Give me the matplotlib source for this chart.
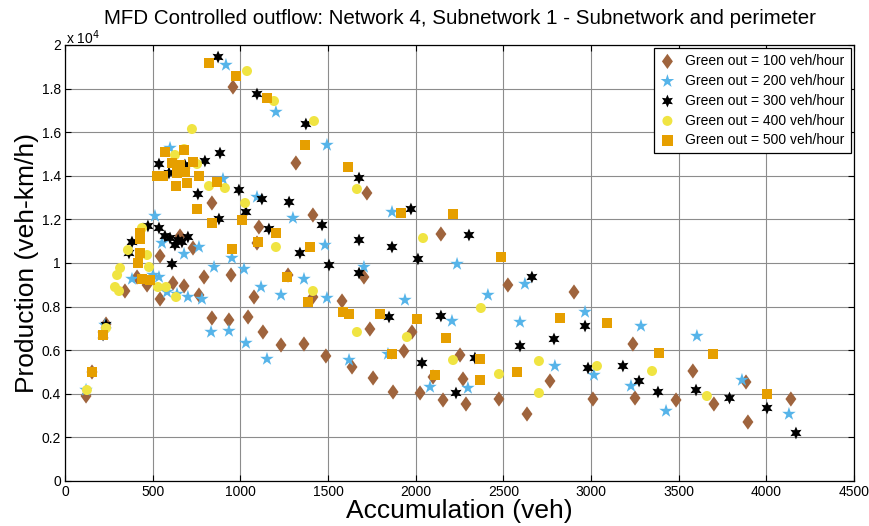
#!/usr/bin/env python3
"""
MFD scatter for network 4, subnetwork 1 under controlled outflow.
"""
import matplotlib
matplotlib.use('Agg')
import matplotlib.pyplot as plt
from matplotlib.ticker import FuncFormatter

plt.rcParams['font.family'] = ['Liberation Sans', 'DejaVu Sans']

# Accumulation (veh) and production (veh-km/h) per green-out setting
acc_100 = [120, 154, 234, 342, 411, 468, 542, 616, 679, 764, 838, 935, 1044,
           1078, 793, 947, 542, 656, 730, 838, 1106, 1095, 958, 1317, 1414,
           1722, 2144, 1705, 1272, 1414, 1580, 1129, 1232, 1363, 1488, 1637,
           1739, 1757, 1871, 1933, 1979, 2025, 2099, 2156, 2253, 2270, 2287,
           2475, 2526, 2635, 2766, 2903, 3011, 3239, 3251, 3485, 3581, 3701,
           3884, 3895, 4140]
prod_100 = [3900, 5000, 7200, 8715, 9357, 8991, 8348, 9082, 8945, 8532, 7477,
            7385, 7523, 8440, 9357, 9449, 10321, 11238, 10688, 12752, 11651,
            10917, 18073, 14587, 12201, 13211, 11330, 9357, 9449, 8440, 8257,
            6835, 6238, 6284, 5734, 5229, 6972, 4725, 4083, 5963, 6835, 4037,
            4771, 3716, 5780, 4679, 3532, 3761, 8991, 3073, 4587, 8669, 3761,
            6284, 3807, 3716, 5046, 3532, 4541, 2706, 3761]

acc_200 = [120, 228, 382, 502, 536, 582, 639, 701, 781, 833, 935, 1032, 513,
           553, 679, 764, 850, 952, 1021, 599, 901, 1095, 918, 1203, 1494,
           1300, 1865, 1483, 1705, 1363, 1118, 1232, 1494, 1939, 2412, 2236,
           2623, 2207, 2595, 2966, 3285, 3604, 1152, 1620, 1842, 2082, 2298,
           2794, 3017, 3228, 3428, 3861, 4129]
prod_200 = [4174, 7156, 9266, 9449, 9357, 8669, 8578, 8440, 8348, 6835, 6881,
            6330, 12156, 10917, 10412, 10734, 9816, 10229, 9724, 15275, 13853,
            13027, 19082, 16926, 15412, 12064, 12339, 10825, 9816, 9266, 8899,
            8532, 8394, 8302, 8532, 9954, 9036, 7339, 7293, 7752, 7110, 6651,
            5596, 5550, 5825, 4312, 4266, 5275, 4862, 4358, 3211, 4633, 3073]

acc_300 = [217, 234, 365, 382, 473, 536, 599, 627, 645, 667, 701, 570, 610,
           536, 593, 684, 798, 884, 758, 992, 1032, 878, 873, 1095, 1374,
           1677, 1973, 1123, 1278, 1163, 1466, 1677, 1340, 1865, 2304, 1506,
           1677, 2013, 2663, 1848, 2144, 2036, 2338, 2230, 2966, 2595, 2789,
           2983, 3182, 3274, 3382, 3599, 3790, 4004, 4169]
prod_300 = [6697, 7156, 10458, 10963, 11697, 11605, 11146, 10825, 11055,
            10963, 11192, 11238, 9954, 14541, 14128, 14495, 14678, 15045,
            13165, 13348, 12339, 12018, 19449, 17752, 16376, 13899, 12477,
            12935, 12798, 11559, 11743, 11055, 10458, 10734, 11284, 9908,
            9541, 10183, 9357, 7523, 7569, 5413, 5642, 4037, 7110, 6192,
            6514, 5183, 5275, 4587, 4083, 4174, 3807, 3349, 2202]

acc_400 = [125, 154, 234, 285, 297, 308, 314, 359, 439, 468, 479, 530, 576,
           633, 724, 627, 679, 753, 821, 912, 1027, 1038, 1192, 1420, 1665,
           2042, 1203, 1414, 1665, 1950, 2372, 2213, 2703, 2475, 3034, 3348,
           3661, 2703]
prod_400 = [4174, 5000, 7018, 8899, 9449, 8715, 9770, 10596, 11605, 10367,
            9816, 8899, 8899, 8440, 16146, 14954, 15229, 14541, 13532, 13440,
            12752, 18807, 17431, 16513, 13394, 11146, 10734, 8715, 6835, 6605,
            7936, 5550, 5504, 4908, 5275, 5046, 3899, 4037]

acc_500 = [154, 217, 428, 428, 428, 416, 439, 485, 525, 559, 570, 679, 610,
           656, 730, 639, 684, 764, 633, 696, 867, 753, 838, 1009, 952, 821,
           975, 1152, 1369, 1614, 1916, 2213, 1203, 1101, 1397, 1266, 1386,
           1585, 1620, 1796, 2008, 2487, 2823, 3091, 2173, 1865, 2367, 2110,
           2367, 2578, 3388, 3696, 4004]
prod_500 = [5000, 6697, 11376, 11101, 10458, 10000, 9266, 9220, 13990, 13990,
            15091, 15183, 14587, 14495, 14633, 14128, 14174, 13990, 13532,
            13669, 13715, 12477, 11834, 11972, 10642, 19174, 18577, 17568,
            15412, 14403, 12293, 12247, 11376, 10963, 10734, 9357, 8211, 7752,
            7660, 7660, 7431, 10275, 7477, 7247, 6560, 5825, 5596, 4862, 4633,
            5000, 5871, 5825, 3991]

green_out = [100, 200, 300, 400, 500]

# MATLAB-like diamond, a bit narrower than tall
diamond = [(0, 1), (0.72, 0), (0, -1), (-0.72, 0)]
series = [
    (acc_100, prod_100, diamond, '#9f643d', 120),
    (acc_200, prod_200, '*', '#56b4e9', 105),
    (acc_300, prod_300, (6, 1, 0), 'black', 85),
    (acc_400, prod_400, 'o', '#f0e442', 52),
    (acc_500, prod_500, 's', '#e69f00', 60),
]

fig = plt.figure(figsize=(8.7, 5.26), dpi=100)
ax = fig.add_axes([65 / 870, 45 / 526, 789 / 870, 436 / 526])

for (x, y, marker, color, size), g in zip(series, green_out):
    ax.scatter(x, y, s=size, marker=marker, c=color, edgecolors='none',
               label=f'Green out = {g} veh/hour', zorder=3)

ax.set_xlim(0, 4500)
ax.set_ylim(0, 20000)
ax.set_xticks(range(0, 4501, 500))
ax.set_yticks(range(0, 20001, 2000))
ax.yaxis.set_major_formatter(FuncFormatter(lambda v, pos: f'{v / 1e4:g}'))
ax.tick_params(direction='in', top=True, right=True, length=4, width=0.8,
               labelsize=10, pad=3)
ax.grid(True, color='#8c8c8c', linewidth=0.8)
ax.set_axisbelow(True)
for side in ax.spines.values():
    side.set_color('black')
    side.set_linewidth(0.9)

ax.set_xlabel('Accumulation (veh)', fontsize=19, labelpad=0)
ax.set_ylabel('Production (veh-km/h)', fontsize=19, labelpad=2)

# Exponent label in the corner, as MATLAB prints it
fig.text(66 / 870, 1 - 38 / 526, 'x 10$^4$', fontsize=10, va='center')
fig.text(460 / 870, 1 - 18 / 526,
         'MFD Controlled outflow: Network 4, Subnetwork 1 - '
         'Subnetwork and perimeter',
         fontsize=14.8, ha='center', va='center')

leg = ax.legend(loc='upper right', fontsize=10, borderaxespad=0.25,
                labelspacing=0.42, handlelength=1.2, handletextpad=0.7,
                borderpad=0.4, fancybox=False, framealpha=1, scatterpoints=1)
leg.get_frame().set_edgecolor('black')
leg.get_frame().set_linewidth(0.9)

fig.savefig('out.png', dpi=100)
